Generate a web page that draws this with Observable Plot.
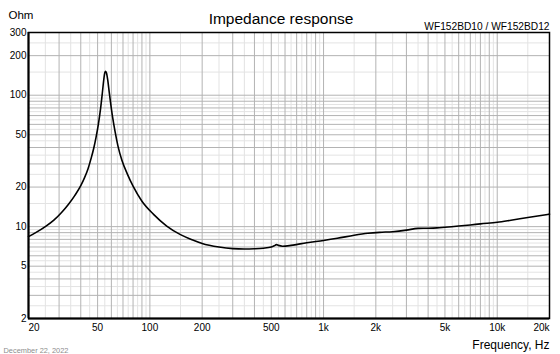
<!DOCTYPE html>
<html><head><meta charset="utf-8">
<script src="https://cdn.jsdelivr.net/npm/d3@7"></script>
<script src="https://cdn.jsdelivr.net/npm/@observablehq/plot@0.6"></script>
<style>html,body{margin:0;padding:0;background:#fff} svg{display:block}</style>
</head><body><div id="chart"></div>
<script>
const freqs = [20,22,25,28,31,34,37,40,42,44,46,47.5,49,50.5,52,53.2,54.2,55,55.6,56.3,57.2,58.3,59.5,61,63,65.5,69,74,80,90,105,125,150,175,200,250,300,350,400,450,500,520,535,550,580,650,800,1000,1200,1500,1800,2100,2500,3000,3500,4000,4500,5000,6000,7000,8000,10000,12000,15000,20000];
const ohms  = [8.4,9.0,10.0,11.2,12.8,14.8,17.3,20.5,23.5,27.5,33.5,39.5,48,60,79,103,130,148,152,147,130,106,86,68,53,41,32,25.3,20.3,15.6,12.4,10.1,8.7,7.95,7.45,7.0,6.8,6.75,6.78,6.85,7.0,7.15,7.3,7.2,7.1,7.2,7.55,7.85,8.15,8.6,8.9,9.05,9.15,9.4,9.7,9.72,9.78,9.9,10.1,10.3,10.5,10.8,11.2,11.75,12.45];

const xTickValues = [20,50,100,200,500,1000,2000,5000,10000,20000];
const xTickLabels = ["20","50","100","200","500","1k","2k","5k","10k","20k"];
const yTickValues = [2,5,10,20,50,100,200,300];
const yTickLabels = ["2","5","10","20","50","100","200","300"];

const decades = [1,10,100,1000,10000];
const majorSteps = [1,2,3,4,5,6,7,8,9];
const minorSteps = [1.5,2.5,3.5,4.5,5.5,6.5,7.5,8.5,9.5];

const xDomain = [20,20000];
const yDomain = [2,300];

const gridVals = (steps, dom) => decades.flatMap(d => steps.map(s => s*d)).filter(v => v >= dom[0] && v <= dom[1]);

const curve = freqs.map((f,i) => ({f, z: ohms[i]}));
const font = "'Liberation Sans', Arial, Helvetica, sans-serif";
const idx = a => a.map((_,i) => i);

const xi = idx(xTickValues);
const yi = idx(yTickValues);

const chart = Plot.plot({
  width: 560,
  height: 354,
  marginLeft: 28,
  marginRight: 11,
  marginTop: 32,
  marginBottom: 36,
  style: {fontFamily: font, background: "#fff", overflow: "visible"},
  x: {type: "log", domain: xDomain, axis: null},
  y: {type: "log", domain: yDomain, axis: null},
  marks: [
    Plot.ruleX(gridVals(minorSteps, xDomain), {stroke: "#e3e3e3", strokeWidth: 1}),
    Plot.ruleY(gridVals(minorSteps, yDomain), {stroke: "#e3e3e3", strokeWidth: 1}),
    Plot.ruleX(gridVals(majorSteps, xDomain), {stroke: "#b3b3b3", strokeWidth: 1}),
    Plot.ruleY(gridVals(majorSteps, yDomain), {stroke: "#b3b3b3", strokeWidth: 1}),
    Plot.line(curve, {x: "f", y: "z", stroke: "#000", strokeWidth: 1.6, curve: "monotone-x"}),
    Plot.frame({stroke: "#000", strokeWidth: 1.5}),
    Plot.ruleX([xDomain[0]], {stroke: "#000", strokeWidth: 2}),
    Plot.ruleY([yDomain[0]], {stroke: "#000", strokeWidth: 2}),
    // x tick labels
    Plot.text(xi.slice(0,1), {x: i => xTickValues[i], text: i => xTickLabels[i], frameAnchor: "bottom", lineAnchor: "top", dy: 5, textAnchor: "start", fontSize: 10, fill: "#000"}),
    Plot.text(xi.slice(1,-1), {x: i => xTickValues[i], text: i => xTickLabels[i], frameAnchor: "bottom", lineAnchor: "top", dy: 5, textAnchor: "middle", fontSize: 10, fill: "#000"}),
    Plot.text(xi.slice(-1), {x: i => xTickValues[i], text: i => xTickLabels[i], frameAnchor: "bottom", lineAnchor: "top", dy: 5, textAnchor: "end", fontSize: 10, fill: "#000"}),
    // y tick labels
    Plot.text(yi, {y: i => yTickValues[i], text: i => yTickLabels[i], frameAnchor: "left", textAnchor: "end", dx: -2, fontSize: 10, fill: "#000"}),
    // titles
    Plot.text(["Ohm"], {frameAnchor: "top-left", textAnchor: "start", lineAnchor: "bottom", dx: -20, dy: -14, fontSize: 11.5, fill: "#000"}),
    Plot.text(["Impedance response"], {frameAnchor: "top", textAnchor: "middle", lineAnchor: "bottom", dx: -8, dy: -9, fontSize: 15.5, fill: "#000"}),
    Plot.text(["WF152BD10 / WF152BD12"], {frameAnchor: "top-right", textAnchor: "end", lineAnchor: "bottom", dy: -3, fontSize: 10.2, fill: "#000"}),
    Plot.text(["Frequency, Hz"], {frameAnchor: "bottom-right", textAnchor: "end", lineAnchor: "bottom", dy: 30, fontSize: 12, fill: "#000"}),
    Plot.text(["December 22, 2022"], {frameAnchor: "bottom-left", textAnchor: "start", lineAnchor: "bottom", dx: -25, dy: 34, fontSize: 7.4, fill: "#8c8c8c"})
  ]
});
document.getElementById("chart").appendChild(chart);
</script>
</body></html>
